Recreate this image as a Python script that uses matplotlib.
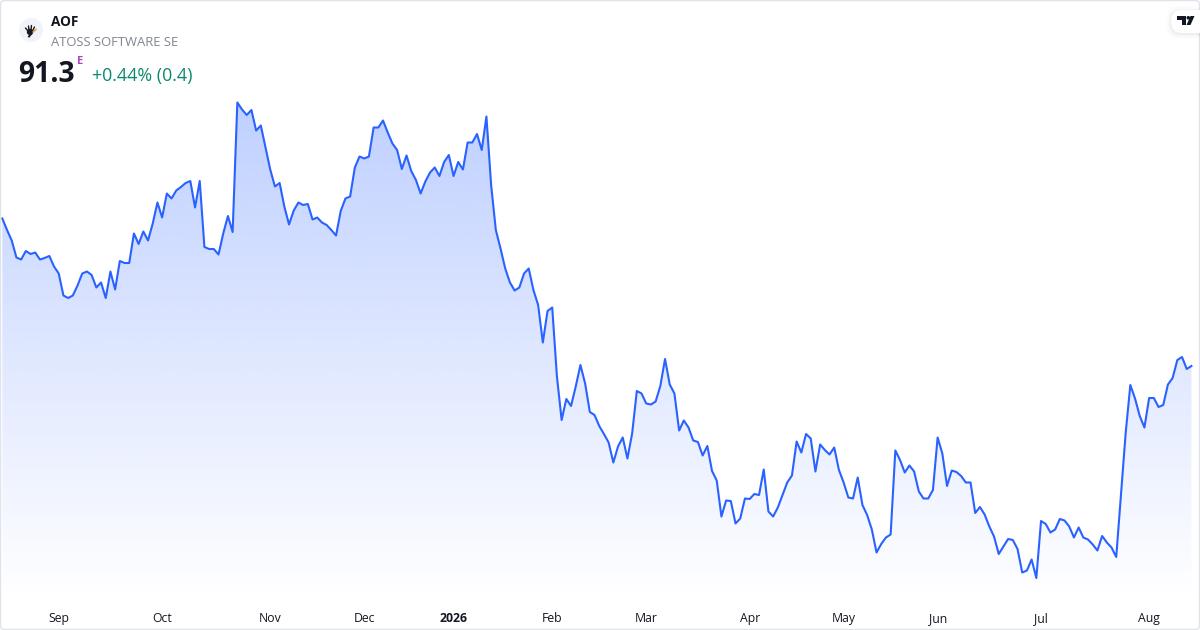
import numpy as np
from matplotlib import pyplot as plt
from matplotlib.patches import Circle, FancyBboxPatch, Polygon

plt.rcParams['font.family'] = ['Open Sans', 'DejaVu Sans']

ticker = 'AOF'
company = 'ATOSS SOFTWARE SE'
last_price = '91.3'
change_text = '+0.44% (0.4)'

# closing prices, one per trading day
prices = [
    120.8, 118.5, 116.4, 113.0, 112.6, 114.3, 113.7, 114.0, 112.6, 112.9, 113.3, 111.2, 109.8,
    105.4, 104.9, 105.4, 107.4, 109.8, 110.2, 109.5, 107.0, 108.0, 104.9, 110.2, 106.6, 112.3,
    111.9, 111.9, 117.8, 115.7, 118.2, 116.4, 119.8, 124.0, 121.0, 125.8, 124.8, 126.4, 127.1,
    127.9, 128.3, 123.0, 128.3, 115.1, 114.7, 114.7, 113.6, 117.8, 121.3, 118.1, 144.0, 142.6,
    141.5, 142.5, 138.4, 139.4, 135.0, 130.6, 127.2, 127.9, 123.2, 119.6, 122.4, 124.0, 123.5,
    123.7, 120.6, 121.0, 120.0, 119.5, 118.5, 117.4, 122.3, 124.8, 125.2, 131.0, 133.2, 132.8,
    133.2, 139.0, 139.0, 140.4, 138.0, 135.8, 134.5, 130.7, 133.4, 130.3, 128.5, 125.8, 128.2,
    130.0, 131.0, 129.3, 132.1, 133.5, 129.3, 132.1, 130.6, 136.0, 136.0, 137.7, 134.5, 141.2,
    127.5, 118.5, 114.8, 110.8, 108.0, 106.4, 107.0, 109.8, 110.8, 106.5, 103.5, 96.0, 102.3,
    103.0, 89.2, 80.5, 84.7, 83.3, 87.2, 91.5, 87.8, 82.1, 81.5, 79.3, 77.7, 76.0, 72.0,
    75.2, 77.0, 72.8, 77.8, 86.3, 85.8, 83.8, 83.6, 84.2, 87.3, 92.7, 87.6, 85.8, 78.4, 80.4,
    79.0, 76.4, 76.1, 73.4, 75.3, 70.3, 68.4, 61.2, 64.4, 64.3, 59.8, 60.8, 64.8, 64.7, 65.7,
    65.5, 70.6, 62.2, 61.2, 63.0, 65.5, 68.0, 69.4, 76.2, 74.0, 77.7, 76.8, 70.2, 75.6, 74.5,
    73.6, 75.0, 70.5, 68.0, 65.0, 64.8, 69.0, 63.5, 61.5, 58.6, 54.0, 55.7, 57.0, 57.6, 74.4,
    72.5, 70.0, 71.4, 70.2, 66.2, 64.8, 64.8, 66.5, 77.0, 73.8, 67.3, 70.4, 70.1, 69.3, 68.0,
    68.0, 61.9, 63.1, 61.6, 59.2, 57.2, 53.7, 55.2, 56.7, 56.5, 54.7, 50.0, 50.4, 52.6, 48.9,
    60.3, 59.7, 58.0, 58.6, 60.7, 60.4, 59.2, 57.0, 59.0, 57.0, 56.6, 55.6, 54.4, 57.3, 56.0,
    55.0, 53.1, 65.5, 77.8, 87.5, 84.8, 81.3, 79.0, 84.9, 84.9, 83.1, 83.5, 87.6, 88.9, 92.5,
    93.1, 90.7, 91.3,
]
month_labels = ['Sep', 'Oct', 'Nov', 'Dec', '2026', 'Feb', 'Mar', 'Apr', 'May', 'Jun', 'Jul', 'Aug']
month_days = [12, 34, 57, 77, 96, 117, 137, 159, 179, 199, 221, 244]

fig = plt.figure(figsize=(12, 6.3), dpi=100, facecolor='white')
ax = fig.add_axes([0, 30 / 630, 1, 600 / 630])

days = np.arange(len(prices))
x_left = -2.33 / 4.7
x_right = (1200 - 2.33) / 4.7
y_low = 44.5
y_high = 164.5

# area under the line, fading out downwards
gradient = np.zeros((256, 1, 4))
gradient[:, 0, :3] = np.array([41, 98, 255]) / 255
gradient[:, 0, 3] = np.linspace(0.3, 0.0, 256)
img = ax.imshow(gradient, extent=[days[0], days[-1], y_low, max(prices)], aspect='auto', zorder=1)
area = Polygon(
    list(zip(days, prices)) + [(days[-1], y_low), (days[0], y_low)],
    closed=True, transform=ax.transData, facecolor='none', edgecolor='none',
)
ax.add_patch(area)
img.set_clip_path(area)

ax.plot(days, prices, color='#2962ff', linewidth=1.5, solid_joinstyle='round', zorder=2)

ax.set_xlim(x_left, x_right)
ax.set_ylim(y_low, y_high)
ax.set_yticks([])
ax.set_xticks(month_days)
ax.set_xticklabels(month_labels)
ax.tick_params(axis='x', length=0, pad=8.8, labelsize=8.8, labelcolor='#131722')
for label in ax.get_xticklabels():
    if label.get_text() == '2026':
        label.set_fontweight('bold')
for side in ax.spines:
    ax.spines[side].set_visible(False)

# overlay in pixels for the header, logos and frame
top = fig.add_axes([0, 0, 1, 1], facecolor='none')
top.set_xlim(0, 1200)
top.set_ylim(630, 0)
top.axis('off')

top.add_patch(FancyBboxPatch((0.5, 0.5), 1199, 629, boxstyle='round,pad=0,rounding_size=4',
                             facecolor='none', edgecolor='#e0e3eb', linewidth=1))

# symbol logo
top.add_patch(Circle((31, 30), 12, facecolor='#f0f3fa', edgecolor='none'))
top.add_patch(Circle((30, 32), 3.2, facecolor='#1a1a1a', edgecolor='none'))
for x0, y0, x1, y1 in [(28, 31, 25.5, 28), (29, 30, 28.5, 26), (31, 30, 31.5, 25.5), (32.5, 31, 34.5, 27)]:
    top.plot([x0, x1], [y0, y1], color='#1a1a1a', linewidth=1.0, solid_capstyle='round')
top.plot([33, 36], [32, 29.5], color='#f09a3e', linewidth=1.0)
top.plot([31, 29], [34, 36.5], color='#1a1a1a', linewidth=1.4)

top.text(51, 22, ticker, fontsize=9.8, fontweight='bold', color='#131722', va='center', ha='left')
top.text(51, 42, company, fontsize=9.4, color='#808590', va='center', ha='left')
top.text(18.5, 74.5, last_price, fontsize=20.3, fontweight='bold', color='#131722', va='center', ha='left')
top.text(77, 62, 'E', fontsize=8, fontweight='bold', color='#ab47bc', va='center', ha='left')
top.text(92, 76, change_text, fontsize=12.85, color='#0b8a6f', va='center', ha='left')

# badge in the top right corner
for grow, alpha in [(5, 0.008), (3.5, 0.012), (2, 0.018), (1, 0.025)]:
    top.add_patch(FancyBboxPatch((1171 - grow, 10 - grow + 1), 40, 23 + 2 * grow,
                                 boxstyle='round,pad=0,rounding_size=11', facecolor='black',
                                 edgecolor='none', alpha=alpha))
top.add_patch(FancyBboxPatch((1171, 10), 40, 23, boxstyle='round,pad=0,rounding_size=11',
                             facecolor='white', edgecolor='none'))
top.add_patch(Polygon([(1177, 16), (1186, 16), (1186, 25), (1182, 25), (1182, 19.5), (1177, 19.5)],
                      closed=True, facecolor='#131722', edgecolor='none'))
top.add_patch(Circle((1188.3, 17.8), 1.8, facecolor='#131722', edgecolor='none'))
top.add_patch(Polygon([(1190.5, 16), (1194.5, 16), (1190.5, 25), (1186.5, 25)],
                      closed=True, facecolor='#131722', edgecolor='none'))

fig.savefig('out.png', dpi=100)
